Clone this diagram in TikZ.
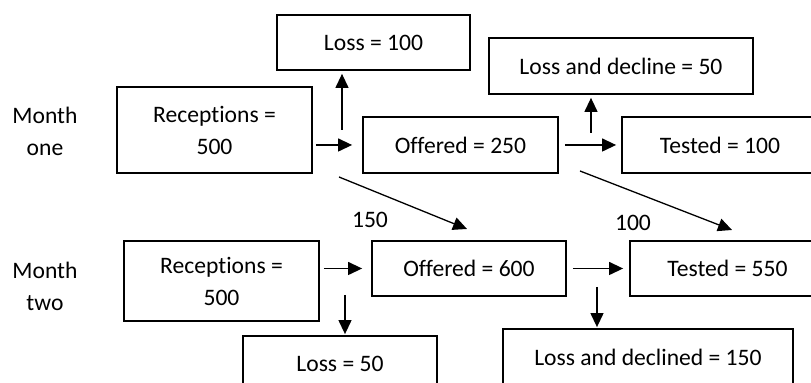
\documentclass[tikz,border=0pt]{standalone}
\usepackage{fontspec}
\setmainfont{Carlito}[Ligatures={NoCommon}]
\usetikzlibrary{arrows.meta}
\begin{document}
\begin{tikzpicture}[x=0.5pt,y=-0.5pt,
  box/.style={draw,line width=0.9pt,inner sep=0pt,align=center,font=\fontsize{11.8pt}{16pt}\selectfont},
  lbl/.style={inner sep=0pt,align=center,font=\fontsize{11.8pt}{16pt}\selectfont},
  arr/.style={line width=0.65pt,-{Triangle[length=7pt,width=6.5pt]}}]
\useasboundingbox (0,0) rectangle (811,383);
\clip (0,0) rectangle (811,383);
\node[box,minimum width=96.5pt,minimum height=27.5pt] (loss1) at (373.5,42.5) {Loss = 100};
\node[box,minimum width=97.5pt,minimum height=43pt] (rec1) at (214.5,130) {Receptions =\\500};
\node[box,minimum width=97.5pt,minimum height=28pt] (off1) at (460.5,145) {Offered = 250};
\node[box,minimum width=132pt,minimum height=28pt] (ld1) at (621,66) {Loss and decline = 50};
\node[box,minimum width=98pt,minimum height=28pt] (test1) at (720,145) {Tested = 100};
\node[box,minimum width=97.5pt,minimum height=40pt] (rec2) at (221.5,281) {Receptions =\\500};
\node[box,minimum width=97pt,minimum height=27.5pt] (off2) at (469,268.5) {Offered = 600};
\node[box,minimum width=97.5pt,minimum height=27.5pt] (test2) at (727.5,268.5) {Tested = 550};
\node[box,minimum width=97pt,minimum height=28pt] (loss2) at (340,364) {Loss = 50};
\node[box,minimum width=145pt,minimum height=28pt] (ld2) at (648,357) {Loss and declined = 150};
\node[lbl] (m1) at (45,131) {Month\\one};
\node[lbl] (m2) at (45,286) {Month\\two};
\node[lbl] (n150) at (370,220) {150};
\node[lbl] (n100) at (633,223) {100};
\draw[arr,shorten <=1.5pt,shorten >=5pt] (rec1.east |- off1.west) -- (off1.west);
\coordinate (u1) at (342,130);
\draw[arr,shorten >=1.5pt] (u1) -- (u1 |- loss1.south);
\coordinate (u2) at (591,133);
\draw[arr,shorten >=1.5pt] (u2) -- (u2 |- ld1.south);
\draw[arr,shorten <=3pt,shorten >=2.5pt] (off1.east) -- (test1.west);
\coordinate (d1s) at (339,177);
\coordinate (d1e) at (467,229);
\draw[arr] (d1s) -- (d1e);
\coordinate (d2s) at (580,171);
\coordinate (d2e) at (732,230);
\draw[arr] (d2s) -- (d2e);
\draw[arr,shorten <=2pt,shorten >=4.5pt] (rec2.east |- off2.west) -- (off2.west);
\coordinate (v1) at (345,295);
\draw[arr,shorten >=0.5pt] (v1) -- (v1 |- loss2.north);
\draw[arr,shorten <=3pt,shorten >=3pt] (off2.east) -- (test2.west);
\coordinate (v2) at (597,287);
\draw[arr,shorten >=0.5pt] (v2) -- (v2 |- ld2.north);
\end{tikzpicture}
\end{document}
